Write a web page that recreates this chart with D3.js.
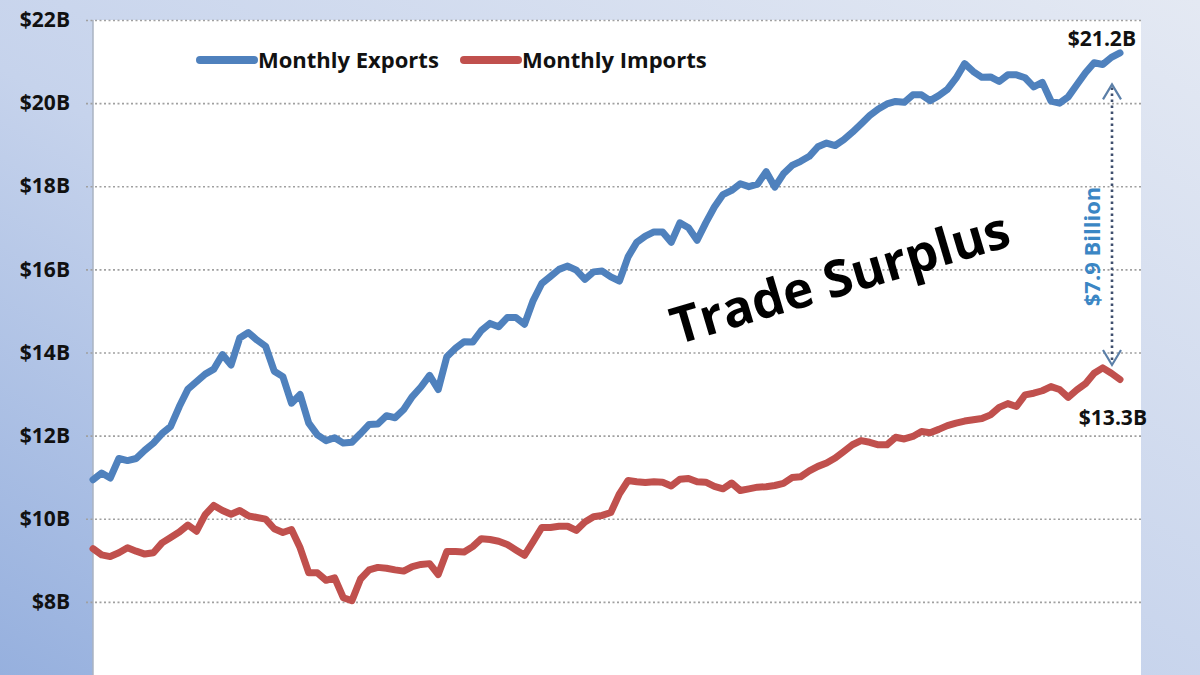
<html>
<head>
<meta charset="utf-8">
<title>Monthly Exports vs Monthly Imports</title>
<script src="https://cdnjs.cloudflare.com/ajax/libs/d3/7.8.5/d3.min.js"></script>
<style>
  body { margin: 0; background: #dfe6f2; }
  text { font-family: "Open Sans", "Noto Sans", sans-serif; }
  .grid line { stroke: #a0a0a0; stroke-width: 1.6; stroke-dasharray: 2,2.5; }
  .grid text { font-size: 21px; font-weight: 700; fill: #111; }
</style>
</head>
<body>
<svg id="chart" width="1200" height="675"></svg>
<script>
// monthly values, $ billions
var exportsSeries = [
  10.94, 11.10, 10.98, 11.45, 11.40, 11.45, 11.65, 11.82, 12.05, 12.22,
  12.70, 13.12, 13.30, 13.48, 13.60, 13.95, 13.70, 14.35, 14.48, 14.30,
  14.15, 13.55, 13.42, 12.78, 12.99, 12.30, 12.02, 11.88, 11.95, 11.82,
  11.84, 12.05, 12.27, 12.28, 12.48, 12.43, 12.63, 12.94, 13.17, 13.45,
  13.11, 13.90, 14.10, 14.26, 14.25, 14.53, 14.70, 14.62, 14.84, 14.84,
  14.68, 15.25, 15.66, 15.83, 16.00, 16.08, 15.98, 15.76, 15.94, 15.96,
  15.82, 15.72, 16.30, 16.65, 16.80, 16.90, 16.90, 16.65, 17.12, 17.00,
  16.70, 17.12, 17.50, 17.80, 17.90, 18.06, 17.99, 18.05, 18.35, 17.98,
  18.30, 18.50, 18.60, 18.72, 18.95, 19.04, 18.98, 19.12, 19.30, 19.50,
  19.70, 19.86, 19.98, 20.04, 20.02, 20.20, 20.20, 20.06, 20.18, 20.33,
  20.60, 20.95, 20.76, 20.62, 20.63, 20.52, 20.68, 20.68, 20.61, 20.39,
  20.50, 20.05, 20.00, 20.15, 20.44, 20.73, 20.97, 20.93, 21.10, 21.21
];
var importsSeries = [
  9.28, 9.13, 9.09, 9.18, 9.30, 9.22, 9.15, 9.18, 9.42, 9.55,
  9.68, 9.85, 9.70, 10.10, 10.32, 10.20, 10.11, 10.20, 10.07, 10.03,
  9.99, 9.76, 9.67, 9.74, 9.30, 8.70, 8.70, 8.52, 8.58, 8.10,
  8.03, 8.55, 8.77, 8.83, 8.81, 8.77, 8.74, 8.85, 8.90, 8.92,
  8.66, 9.21, 9.21, 9.20, 9.33, 9.52, 9.50, 9.46, 9.38, 9.25,
  9.12, 9.45, 9.79, 9.79, 9.82, 9.82, 9.72, 9.92, 10.05, 10.08,
  10.15, 10.60, 10.92, 10.89, 10.87, 10.89, 10.88, 10.79, 10.95, 10.97,
  10.89, 10.88, 10.78, 10.72, 10.86, 10.68, 10.72, 10.76, 10.77, 10.80,
  10.85, 10.99, 11.01, 11.15, 11.26, 11.34, 11.46, 11.62, 11.78, 11.88,
  11.84, 11.78, 11.78, 11.96, 11.92, 11.98, 12.10, 12.07, 12.15, 12.24,
  12.30, 12.35, 12.38, 12.41, 12.50, 12.68, 12.77, 12.70, 12.98, 13.02,
  13.08, 13.18, 13.11, 12.92, 13.10, 13.25, 13.50, 13.63, 13.50, 13.35
];
var seriesNames = ["Monthly Exports", "Monthly Imports"];
var seriesColors = ["#4f81bd", "#c0504d"];
var yTicks = [6, 8, 10, 12, 14, 16, 18, 20, 22];
var endLabels = ["$21.2B", "$13.3B"];
var gapLabel = "$7.9 Billion";
var gapRange = [13.7, 20.45];
var bigLabel = "Trade Surplus";

var width = 1200, height = 675;
var plotLeft = 93, plotRight = 1141, plotTop = 20;

var svg = d3.select("#chart");

var defs = svg.append("defs");
var grad = defs.append("linearGradient")
    .attr("id", "bg")
    .attr("x1", "0").attr("y1", "1")
    .attr("x2", "1").attr("y2", "0");
grad.append("stop").attr("offset", "0").attr("stop-color", "#96b0de");
grad.append("stop").attr("offset", "0.45").attr("stop-color", "#c6d3ec");
grad.append("stop").attr("offset", "1").attr("stop-color", "#e4e9f3");

svg.append("rect")
    .attr("width", width).attr("height", height)
    .attr("fill", "url(#bg)");

var x = d3.scaleLinear()
    .domain([0, exportsSeries.length - 1])
    .range([plotLeft, 1120]);

var y = d3.scaleLinear()
    .domain([6, 22])
    .range([685, plotTop]);

// plot area
svg.append("rect")
    .attr("x", plotLeft).attr("y", plotTop)
    .attr("width", plotRight - plotLeft)
    .attr("height", height - plotTop + 20)
    .attr("fill", "#fff");

svg.append("line")
    .attr("x1", plotLeft).attr("x2", plotLeft)
    .attr("y1", plotTop).attr("y2", height)
    .attr("stroke", "#aab3c2").attr("stroke-width", 1.5);

var grid = svg.append("g")
    .attr("class", "grid")
    .attr("transform", "translate(86,0)")
    .call(d3.axisLeft(y)
        .tickValues(yTicks)
        .tickSize(-(plotRight - 86))
        .tickPadding(16)
        .tickFormat(function(d) { return "$" + d + "B"; }));
grid.select(".domain").remove();

// legend
var legend = svg.append("g").attr("transform", "translate(0,60)");
var legendX = [200, 464];
seriesNames.forEach(function(name, i) {
    legend.append("line")
        .attr("x1", legendX[i]).attr("x2", legendX[i] + 54)
        .attr("y1", 0).attr("y2", 0)
        .attr("stroke", seriesColors[i])
        .attr("stroke-width", 8)
        .attr("stroke-linecap", "round");
    legend.append("text")
        .attr("x", legendX[i] + 58)
        .attr("y", 8)
        .style("font-size", "22px")
        .style("font-weight", 700)
        .attr("fill", "#111")
        .text(name);
});

// lines
var line = d3.line()
    .x(function(d, i) { return x(i); })
    .y(function(d) { return y(d); });

[exportsSeries, importsSeries].forEach(function(s, i) {
    svg.append("path")
        .datum(s)
        .attr("fill", "none")
        .attr("stroke", seriesColors[i])
        .attr("stroke-width", 7)
        .attr("stroke-linejoin", "round")
        .attr("stroke-linecap", "round")
        .attr("d", line);
});

// end value labels
var last = exportsSeries.length - 1;
svg.append("text")
    .attr("x", x(last) + 16).attr("y", y(exportsSeries[last]) - 7)
    .attr("text-anchor", "end")
    .style("font-size", "21px").style("font-weight", 700)
    .attr("fill", "#111")
    .text(endLabels[0]);
svg.append("text")
    .attr("x", x(last) + 27).attr("y", y(importsSeries[last]) + 45)
    .attr("text-anchor", "end")
    .style("font-size", "21px").style("font-weight", 700)
    .attr("fill", "#111")
    .text(endLabels[1]);

// gap arrow
var ax = x(last) - 8;
svg.append("line")
    .attr("x1", ax).attr("x2", ax)
    .attr("y1", y(gapRange[1]) + 3).attr("y2", y(gapRange[0]) - 3)
    .attr("stroke", "#3f4f6e").attr("stroke-width", 2.6)
    .attr("stroke-dasharray", "2.5,3.5");
var chevron = [[-9, 15], [0, 0], [9, 15]];
svg.append("path")
    .attr("d", d3.line()(chevron.map(function(p) { return [ax + p[0], y(gapRange[1]) + p[1]]; })))
    .attr("fill", "none").attr("stroke", "#5b7fa8").attr("stroke-width", 2.2);
svg.append("path")
    .attr("d", d3.line()(chevron.map(function(p) { return [ax + p[0], y(gapRange[0]) - p[1]]; })))
    .attr("fill", "none").attr("stroke", "#5b7fa8").attr("stroke-width", 2.2);

svg.append("text")
    .attr("transform", "translate(" + (ax - 12) + "," + y(16.55) + ") rotate(-90)")
    .attr("text-anchor", "middle")
    .style("font-size", "22px").style("font-weight", 700)
    .attr("fill", "#3b86c4")
    .text(gapLabel);

// big annotation
svg.append("text")
    .attr("transform", "translate(845,295) rotate(-16.5)")
    .attr("text-anchor", "middle")
    .style("font-size", "51px").style("font-weight", 700)
    .attr("fill", "#000")
    .text(bigLabel);
</script>
</body>
</html>
